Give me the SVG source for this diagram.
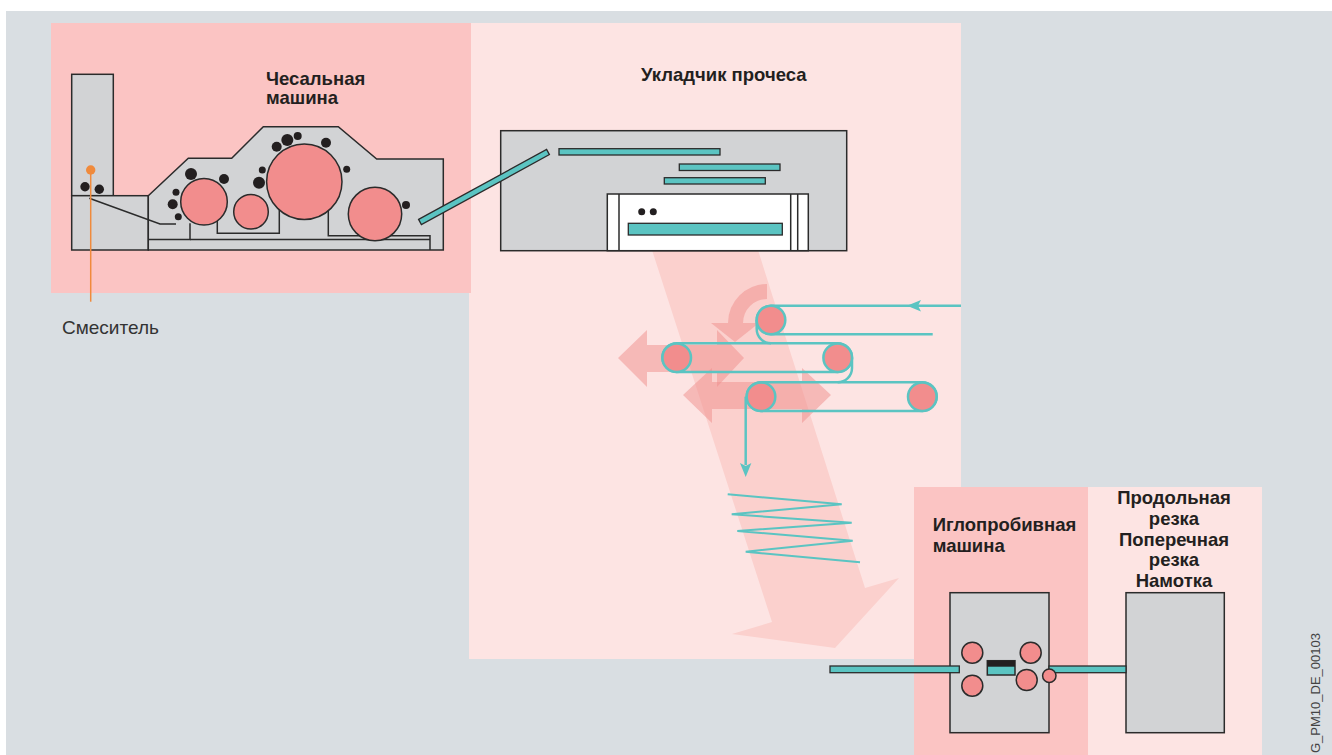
<svg xmlns="http://www.w3.org/2000/svg" width="1332" height="755" viewBox="0 0 1332 755">
  <style>
    .machine { fill: #d2d3d5; stroke: #2b2b2b; stroke-width: 1.5; }
    .inner { fill: none; stroke: #2b2b2b; stroke-width: 1.5; }
    .roller { fill: #f28d8d; stroke: #2b2b2b; stroke-width: 1.5; }
    .belt-roller { fill: #f28d8d; stroke: #5bc4c2; stroke-width: 2.5; }
    .worker { fill: #231f20; }
    .web { fill: #5bc4c2; stroke: #2b2b2b; stroke-width: 1.3; }
    .belt { fill: none; stroke: #5bc4c2; stroke-width: 2.5; }
    .flow { fill: #5bc4c2; }
    .move { fill: #ef8d8b; opacity: 0.5; }
    .title { font-family: "Liberation Sans", Arial, sans-serif; font-weight: bold; font-size: 18.5px; fill: #231f20; }
    .label { font-family: "Liberation Sans", Arial, sans-serif; font-size: 19px; fill: #333333; }
    .code { font-family: "Liberation Sans", Arial, sans-serif; font-size: 13px; fill: #444444; }
  </style>

  <!-- page background -->
  <rect x="0" y="0" width="1332" height="755" fill="#ffffff"/>
  <rect x="6" y="11" width="1326" height="744" fill="#d9dee2"/>

  <!-- web laydown / cross lapper -->
  <g id="crosslapper">
    <rect x="469" y="23" width="492" height="636" fill="#fde4e3"/>
    <polygon points="652,250 758,250 865,588 899,578 835,648 732,634 772,622" fill="#fbd0cd"/>
    <rect class="machine" x="500.7" y="130.7" width="346" height="120"/>
    <rect x="559" y="148.7" width="161" height="6.3" class="web"/>
    <rect x="679.3" y="164" width="100.7" height="6.5" class="web"/>
    <rect x="664.3" y="177.7" width="101" height="6.3" class="web"/>
    <rect x="607.3" y="194" width="201" height="56.7" fill="#ffffff" stroke="#2b2b2b" stroke-width="1.5"/>
    <line class="inner" x1="619" y1="194" x2="619" y2="250.7"/>
    <line class="inner" x1="790.7" y1="194" x2="790.7" y2="250.7"/>
    <line class="inner" x1="797.7" y1="194" x2="797.7" y2="250.7"/>
    <circle class="worker" cx="641.7" cy="211.7" r="3.5"/>
    <circle class="worker" cx="653.3" cy="211.7" r="3.5"/>
    <rect x="628.3" y="223.3" width="154" height="11.7" class="web"/>
    <text class="title" x="641" y="81">Укладчик прочеса</text>

    <!-- movement arrows of the lapping carriages -->
    <path class="move" d="M767,284 A39,39 0 0 0 728,323 L711,323 L735,342 L759,323 L743,323 A24,24 0 0 1 767,299 Z"/>
    <polygon class="move" points="618,358 647,330 647,345 717,345 717,330 744,358 717,387 717,372 647,372 647,387"/>
    <polygon class="move" points="683,395 712,368 712,382 802,382 802,368 831,395 802,423 802,409 712,409 712,423"/>
  </g>

  <!-- carding machine with blender -->
  <g id="carding">
    <rect x="51" y="23" width="420" height="270" fill="#fbc4c3"/>
    <rect class="machine" x="71.7" y="74.3" width="41.6" height="121.4"/>
    <rect class="machine" x="71.7" y="195.7" width="76.6" height="54.3"/>
    <polygon class="machine" points="148.3,195.7 188.3,158.3 231.7,158.3 263.3,126.7 338.3,126.7 376.7,159 443.3,159 443.3,250 148.3,250"/>
    <polyline class="inner" points="148.3,239.5 190,239.5 190,223.3"/>
    <line class="inner" x1="190" y1="239.5" x2="430" y2="239.5"/>
    <polyline class="inner" points="217.3,206.7 217.3,233.3 279.3,233.3 279.3,206.7"/>
    <polyline class="inner" points="328.3,206.7 328.3,235.7 430,235.7 430,250"/>
    <polyline class="inner" points="89.3,198.3 160,224 176,224" stroke-width="2"/>
    <circle class="worker" cx="85" cy="186.7" r="4.7"/>
    <circle class="worker" cx="99.3" cy="189.3" r="4.7"/>

    <circle class="roller" cx="204" cy="201.7" r="23.3"/>
    <circle class="roller" cx="251" cy="211.7" r="17.3"/>
    <circle class="roller" cx="304.3" cy="181.7" r="37.7"/>
    <circle class="roller" cx="375" cy="214" r="26.7"/>

    <circle class="worker" cx="191" cy="174" r="6"/>
    <circle class="worker" cx="224" cy="179" r="5"/>
    <circle class="worker" cx="176" cy="192.3" r="3.5"/>
    <circle class="worker" cx="172.7" cy="204.3" r="5"/>
    <circle class="worker" cx="178.3" cy="216.7" r="3.5"/>
    <circle class="worker" cx="276.7" cy="146.7" r="5"/>
    <circle class="worker" cx="287.3" cy="140" r="6"/>
    <circle class="worker" cx="297.7" cy="136" r="4"/>
    <circle class="worker" cx="326" cy="142.7" r="5"/>
    <circle class="worker" cx="262.3" cy="170" r="3.5"/>
    <circle class="worker" cx="259" cy="182.7" r="6"/>
    <circle class="worker" cx="346.7" cy="169.3" r="3.5"/>
    <circle class="worker" cx="406" cy="205" r="4"/>

    <text class="title" x="266" y="85">Чесальная</text>
    <text class="title" x="266" y="104">машина</text>
  </g>

  <!-- blender call-out -->
  <g id="blender-label">
    <line x1="90.7" y1="170" x2="90.7" y2="301.7" stroke="#f08a3c" stroke-width="1.5"/>
    <circle cx="90.7" cy="170" r="4.7" fill="#f08a3c"/>
    <text class="label" x="62" y="334">Смеситель</text>
  </g>

  <!-- needle punching machine -->
  <g id="needleloom">
    <rect x="914" y="487" width="174" height="268" fill="#fbc4c3"/>
    <rect class="machine" x="950" y="592.7" width="99" height="140"/>
    <circle class="roller" cx="972.3" cy="652.7" r="10.5"/>
    <circle class="roller" cx="1030.7" cy="652.7" r="10.5"/>
    <circle class="roller" cx="972.3" cy="685.7" r="10.5"/>
    <circle class="roller" cx="1026.7" cy="680" r="10.5"/>
    <rect x="987.3" y="660.7" width="27.7" height="14.3" fill="#5bc4c2" stroke="#2b2b2b" stroke-width="1.5"/>
    <rect x="987.3" y="660.7" width="27.7" height="6" fill="#231f20"/>
    <text class="title" x="932.7" y="531">Иглопробивная</text>
    <text class="title" x="932.7" y="551.5">машина</text>
  </g>

  <!-- slitting, cross cutting and winding -->
  <g id="finishing">
    <rect x="1088" y="487" width="174" height="268" fill="#fde4e3"/>
    <rect class="machine" x="1126" y="592.7" width="98.3" height="140"/>
    <g text-anchor="middle">
      <text class="title" x="1174" y="504">Продольная</text>
      <text class="title" x="1174" y="524.5">резка</text>
      <text class="title" x="1174" y="545.5">Поперечная</text>
      <text class="title" x="1174" y="566">резка</text>
      <text class="title" x="1174" y="587">Намотка</text>
    </g>
  </g>

  <!-- web path between the machines -->
  <g id="connectors">
    <polygon class="web" points="418.6,219.4 546.6,149.4 549.4,154.6 421.4,224.6"/>

    <!-- feed apron into the lapper -->
    <line class="belt" x1="771" y1="305.7" x2="961" y2="305.7"/>
    <polygon class="flow" points="907,305.7 921,300 918,305.7 921,311.5"/>
    <path class="belt" d="M771,305.7 A14.3,14.3 0 0 0 771,334.3 L932.7,334.3"/>
    <path class="belt" d="M756.7,320 V329 A14.3,14.3 0 0 0 771,343.3"/>
    <path class="belt" d="M852,357.7 V368 A14.3,14.3 0 0 1 837.7,382.3"/>
    <rect class="belt" x="662.4" y="343.3" width="189.6" height="28.6" rx="14.3"/>
    <rect class="belt" x="746.7" y="382.3" width="190" height="28.6" rx="14.3"/>
    <circle class="belt-roller" cx="771" cy="320" r="14.3"/>
    <circle class="belt-roller" cx="676.7" cy="357.7" r="14.3"/>
    <circle class="belt-roller" cx="837.7" cy="357.7" r="14.3"/>
    <circle class="belt-roller" cx="761" cy="396.7" r="14.3"/>
    <circle class="belt-roller" cx="922.3" cy="396.7" r="14.3"/>
    <line class="belt" x1="745.7" y1="396.7" x2="745.7" y2="465"/>
    <polygon class="flow" points="745.7,477 740,463 745.7,466 751.4,463"/>

    <!-- laid batt -->
    <polyline fill="none" stroke="#5bc4c2" stroke-width="2" points="727.7,494.3 841.7,504.3 731.7,514.3 851.7,522.7 737.3,531 852.7,540.7 745.7,551.7 860,562.3"/>

    <!-- batt through the needle loom -->
    <rect class="web" x="830" y="666" width="129.3" height="6.7"/>
    <rect class="web" x="1049" y="666" width="77" height="6.7"/>
    <circle class="roller" cx="1049.3" cy="675.7" r="6.7"/>
  </g>

  <text class="code" transform="translate(1320,753) rotate(-90)">G_PM10_DE_00103</text>
</svg>
